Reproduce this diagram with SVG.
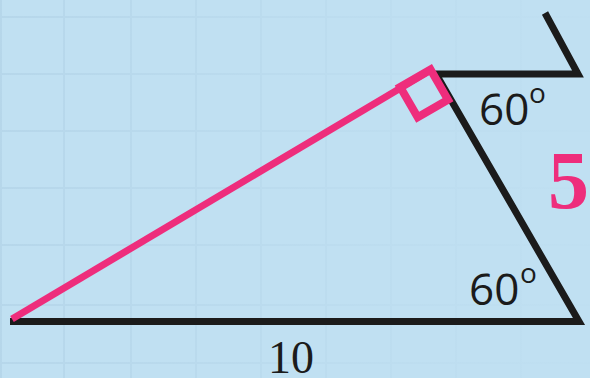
<svg xmlns="http://www.w3.org/2000/svg" width="590" height="378" viewBox="0 0 590 378">
  <defs>
    <linearGradient id="gridfade" gradientUnits="userSpaceOnUse" x1="0" y1="0" x2="590" y2="0">
      <stop offset="0" stop-color="#aecfe4" stop-opacity="0.55"/>
      <stop offset="0.6" stop-color="#aecfe4" stop-opacity="0.2"/>
      <stop offset="1" stop-color="#aecfe4" stop-opacity="0.05"/>
    </linearGradient>
  </defs>
  <style>
    .grid { stroke: url(#gridfade); stroke-width: 2; fill: none; }
    .blk { stroke: #1b1b1b; stroke-width: 7; fill: none; stroke-linejoin: miter; stroke-miterlimit: 10; }
    .pink { stroke: #ee2d7c; fill: none; }
    .lbl { font-family: "Open Sans", "Liberation Sans", sans-serif; fill: #1b1b1b; }
    .num { font-family: "Liberation Serif", serif; fill: #1b1b1b; }
  </style>
  <rect width="590" height="378" fill="#c0e0f2"/>
  <g id="grid">
    <path class="grid" d="M1 0V378M64 0V378M131 0V378M196 0V378M261 0V378M326 0V378M391 0V378M456 0V378M521 0V378
      M0 17H590M0 74H590M0 131H590M0 188H590M0 245H590M0 305H590M0 363H590"/>
  </g>
  <g id="connectors">
    <path id="base" class="blk" d="M10 321.5H579L436 74H578L545 13"/>
    <line id="hyp" class="pink" stroke-width="7" x1="12" y1="319" x2="431" y2="70"/>
  </g>
  <g id="right-angle">
    <rect class="pink" stroke-width="8" transform="translate(430.5,69.5) rotate(-30)" x="-35" y="0" width="35" height="35"/>
  </g>
  <g id="label-top-angle">
    <text class="lbl" x="479" y="125" font-size="44">60</text>
    <text class="lbl" x="529" y="103" font-size="28">o</text>
  </g>
  <g id="label-bottom-angle">
    <text class="lbl" x="469" y="305" font-size="44">60</text>
    <text class="lbl" x="520" y="283" font-size="28">o</text>
  </g>
  <g id="label-base">
    <text class="num" x="268" y="373" font-size="46">10</text>
  </g>
  <g id="label-side">
    <text x="548" y="208" font-size="82" font-weight="bold" font-family="'Liberation Serif', serif" fill="#ee2d7c">5</text>
  </g>
</svg>
